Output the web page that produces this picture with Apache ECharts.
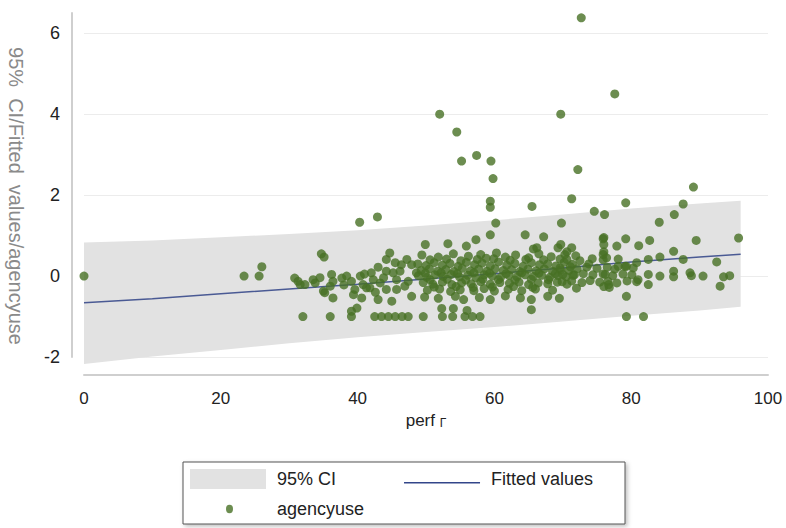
<!DOCTYPE html>
<html>
<head>
<meta charset="utf-8">
<script src="https://cdn.jsdelivr.net/npm/echarts@6.0.0/dist/echarts.min.js"></script>
<style>
html,body{margin:0;padding:0;background:#fff;}
#chart{width:786px;height:528px;}
</style>
</head>
<body>
<div id="chart"></div>
<script>
// ---- data ----
const ciX      = [0, 10, 20, 30, 40, 50, 60, 70, 80, 90, 96];
const ciUpper  = [0.83, 0.88, 0.96, 1.04, 1.13, 1.25, 1.38, 1.52, 1.67, 1.79, 1.86];
const ciLower  = [-2.17, -1.99, -1.83, -1.66, -1.51, -1.38, -1.26, -1.12, -0.98, -0.85, -0.76];
const fitY     = [-0.66, -0.56, -0.44, -0.32, -0.20, -0.07, 0.06, 0.20, 0.35, 0.47, 0.54];

const agencyOutliers = [
  [72.7,6.38],[77.6,4.50],[52.0,4.0],[69.7,4.0],[54.5,3.56],[55.2,2.84],[57.4,2.98],
  [59.5,2.84],[59.8,2.41],[72.2,2.63],[89.1,2.20],[71.3,1.91],[59.4,1.85],[59.4,1.70],
  [65.5,1.72],[79.2,1.81],[87.6,1.78],[74.6,1.60],[76.1,1.52],[86.3,1.52],[84.1,1.33],
  [40.3,1.33],[42.9,1.46],[60.2,1.31],[69.8,1.31],[59.4,1.02],[64.5,1.02],[67.2,0.97],
  [75.9,0.92],[79.2,0.92],[95.7,0.94],[89.5,0.88],[82.7,0.88],[57.3,0.90]
];
const agencyLeft = [
  [0,0],[23.4,0],[25.6,0],[26.0,0.23],[34.7,0.55],[35.1,0.47],
  [30.8,-0.05],[31.3,-0.13],[32.3,-0.21],[33.5,-0.09],[34.5,-0.04],[35.0,-0.37],[36.2,0.04],
  [36.0,-0.25],[36.4,-0.54],[36.4,-0.13],[37.7,-0.05],[38.4,0],[39.1,-0.13],[39.6,-0.33],
  [39.4,-0.46],[39.9,-0.79],[39.1,-0.87],[40.4,0],[40.8,-0.21],[41.3,-0.29],[41.8,-0.29],
  [40.6,-0.54],[42.0,0.08],[42.3,-0.09],[43.3,-0.17],[43.0,-0.58],[43.8,-0.04],[44.2,0.12],
  [44.2,0.41],[44.7,0.57],[44.2,-0.33],[45.0,-0.62],[45.7,-0.33],[45.7,-0.09],[46.2,0.12],
  [46.4,0.28],[47.2,0.41],[47.9,0.28],[47.4,-0.13],[47.9,-0.5],[48.6,0.08],[45.5,0.33],
  [45.2,0.08],[31.6,-0.21],[33.8,-0.17],[35.2,-0.41],[41.0,0.05],[43.0,0.22],[46.9,-0.25],
  [38.0,-0.22],[42.6,-0.40]
];
const agencyBottom = [
  [32.0,-1],[36.0,-1],[39.1,-1],[42.5,-1],[43.5,-1],[44.5,-1],[45.5,-1],[46.5,-1],[47.4,-1],
  [49.6,-1],[52.4,-1],[53.9,-1],[55.7,-1],[56.8,-1],[57.9,-1],[79.3,-1],[81.8,-1],
  [52.3,-0.8],[54.0,-0.8],[56.0,-0.85],[65.4,-0.83],[65.4,-0.58],[79.3,-0.5]
];
const agencyDense = [
  [49.9,0.78],[53.2,0.80],[55.9,0.74],[66.2,0.70],[69.3,0.70],[65.7,0.67],[71.3,0.70],
  [49.4,0.52],[51.8,0.47],[54.0,0.55],[56.2,0.49],[58.0,0.53],[58.8,0.44],[60.3,0.57],
  [61.6,0.47],[63.1,0.52],[65.0,0.45],[66.5,0.55],[68.3,0.48],[70.3,0.53],
  [50.6,0.40],[53.0,0.42],[55.1,0.38],[57.5,0.41],[59.9,0.43],[62.3,0.39],[64.6,0.41],[67.2,0.40],[69.6,0.42],
  [48.8,0.30],[50.0,0.26],[51.2,0.33],[52.4,0.27],[53.5,0.31],[54.7,0.24],[55.9,0.34],
  [57.1,0.28],[58.2,0.32],[59.4,0.25],[60.6,0.35],[61.8,0.27],[63.0,0.31],[64.2,0.24],
  [65.4,0.33],[66.6,0.28],[67.8,0.30],[69.0,0.25],[70.2,0.34],[71.4,0.29],
  [49.3,0.14],[50.5,0.18],[51.7,0.12],[52.9,0.16],[54.1,0.11],[55.3,0.19],[56.5,0.13],
  [57.7,0.17],[58.9,0.12],[60.1,0.18],[61.3,0.14],[62.5,0.16],[63.7,0.11],[64.9,0.17],
  [66.1,0.13],[67.3,0.18],[68.5,0.12],[69.7,0.15],[70.9,0.14],
  [49.9,0.07],[52.2,0.08],[54.6,0.06],[57.0,0.08],[59.3,0.07],[61.7,0.06],[64.0,0.08],[66.5,0.07],[68.9,0.06],
  [48.9,0.01],[50.1,-0.03],[51.3,0.03],[52.5,-0.01],[53.7,0.04],[54.9,-0.02],[56.1,0.02],
  [57.3,-0.04],[58.5,0.03],[59.7,0],[60.9,-0.03],[62.1,0.02],[63.3,-0.02],[64.5,0.03],
  [65.7,-0.01],[66.9,0.02],[68.1,-0.03],[69.3,0.01],[70.5,-0.02],[71.7,0.03],
  [50.6,-0.09],[53.1,-0.08],[55.8,-0.10],[58.3,-0.08],[60.6,-0.09],[63.0,-0.10],[65.4,-0.08],[67.9,-0.09],
  [49.6,-0.16],[51.0,-0.20],[52.4,-0.15],[53.8,-0.21],[55.2,-0.17],[56.6,-0.19],[58.0,-0.14],
  [59.4,-0.20],[60.8,-0.16],[62.2,-0.18],[63.6,-0.15],[65.0,-0.21],[66.4,-0.17],[67.8,-0.19],
  [69.2,-0.15],[70.6,-0.20],
  [51.2,-0.27],[54.4,-0.26],[56.9,-0.28],[59.7,-0.27],[62.8,-0.26],[65.6,-0.28],
  [50.2,-0.35],[52.0,-0.32],[53.6,-0.38],[55.0,-0.34],[57.0,-0.36],[58.5,-0.31],[60.0,-0.37],
  [62.0,-0.33],[64.0,-0.36],[66.0,-0.32],[68.5,-0.35],
  [49.8,-0.52],[51.8,-0.55],[54.3,-0.50],[55.5,-0.58],[57.8,-0.53],[59.4,-0.58],[61.6,-0.49],
  [63.8,-0.54],[67.8,-0.50],[69.5,-0.55]
];
const agencyRight = [
  [69.7,0.78],[70.6,0.60],[70.6,0.41],[72.5,0.38],[74.3,0.43],[75.9,0.40],[78.1,0.42],
  [69.6,0.20],[71.1,0.23],[72.1,0.18],[73.5,0.22],[75.0,0.19],[76.5,0.22],[77.6,0.17],
  [79.1,0.24],[80.3,0.20],[70.0,0.04],[71.5,0.02],[73.0,0.06],[74.4,0.03],[75.9,0.05],
  [77.3,0.01],[78.8,0.05],[80.1,0.03],[69.9,-0.14],[71.3,-0.12],[72.8,-0.16],[74.0,-0.11],
  [75.4,-0.15],[76.6,-0.13],[77.9,-0.17],[79.4,-0.12],[80.8,-0.14],[76.0,-0.26],[76.8,-0.28],
  [76.0,0.95],[76.0,0.78],[76.0,0.60],[81.1,0.75],[77.9,0.74],[75.9,0.53],[92.5,0.35],
  [86.2,0.61],[84.2,0.47],[82.5,0.41],[87.6,0.41],[80.8,0.33],[88.6,0.08],[90.5,0.0],
  [93.5,-0.02],[94.4,0.01],[93.0,-0.25],[82.5,-0.21],[82.5,0.04],[84.2,0.0],[81.0,-0.09],
  [86.2,0.12],[86.2,-0.02],[88.8,0.01],[76.7,-0.21],[76.2,0.04],[78.1,0.24],[79.3,0.24],
  [76.4,0.45],[72.0,-0.30],[73.8,0.30],[71.9,0.50]
];

const xTickStep = 20;
const yTickStep = 2;

// ---- chart ----
const FONT = '"Liberation Sans", Arial, sans-serif';
const chart = echarts.init(document.getElementById('chart'), null, {renderer: 'svg'});
const agencyAll = [].concat(agencyOutliers, agencyLeft, agencyBottom, agencyDense, agencyRight);
const CI_FILL = '#e2e2e2';
const FIT_COLOR = '#33468a';
const DOT_COLOR = '#477124';
const AXIS_COLOR = '#cfcfcf';

// legend icons (bounding points keep the full 76x20 box)
const lineIcon = 'path://M0,0 M76,20 M0,13 L76,13 L76,14.6 L0,14.6 Z';
const dotIcon  = 'path://M0,0 M76,20 M36,10 A3.5,4.2 0 1 0 43,10 A3.5,4.2 0 1 0 36,10 Z';

chart.setOption({
  animation: false,
  backgroundColor: '#ffffff',
  grid: {show: false, left: 84, right: 18, top: 13, bottom: 171, containLabel: false},
  xAxis: {
    type: 'value', min: 0, max: 100, interval: xTickStep, offset: 18,
    name: 'perf {s|Γ}', nameLocation: 'middle', nameGap: 36,
    nameTextStyle: {fontFamily: FONT, fontSize: 17, color: '#222',
      rich: {s: {fontSize: 12, color: '#222', padding: [6, 0, 0, 0]}}},
    axisLine: {show: true, onZero: false, lineStyle: {color: AXIS_COLOR, width: 2}},
    axisTick: {show: false},
    axisLabel: {fontFamily: FONT, fontSize: 17, color: '#222', margin: 15},
    splitLine: {show: false}
  },
  yAxis: {
    type: 'value', min: -2, max: 6.5, interval: yTickStep, offset: 12,
    axisLine: {show: true, onZero: false, lineStyle: {color: AXIS_COLOR, width: 2}},
    axisTick: {show: false},
    axisLabel: {fontFamily: FONT, fontSize: 18, color: '#222', margin: 12, showMaxLabel: false,
      formatter: v => (v === 6.5 ? '' : String(v))},
    splitLine: {show: true, lineStyle: {color: ['#ececec','#ececec','#ececec','#ececec','#ececec','rgba(0,0,0,0)'], width: 1}}
  },
  graphic: [
    {type: 'text', x: 16, y: 196, rotation: -Math.PI / 2, z: 10,
     style: {text: '95%  CI/Fitted  values/agencyuse', fill: '#8a8a8a', font: '20px "Liberation Sans", Arial, sans-serif',
       textAlign: 'center', textVerticalAlign: 'middle'}},
    {type: 'rect', shape: {x: 183, y: 462, width: 442, height: 62}, z: 0,
     style: {fill: '#ffffff', stroke: '#555555', lineWidth: 1,
       shadowBlur: 4, shadowColor: 'rgba(0,0,0,0.25)', shadowOffsetX: 2, shadowOffsetY: 2}}
  ],
  legend: [
    {left: 190, top: 469, padding: 0, itemWidth: 76, itemHeight: 20, itemGap: 68, selectedMode: false,
     textStyle: {fontFamily: FONT, fontSize: 18, color: '#222', padding: [0, 0, 0, 6]},
     data: [{name: '95% CI', icon: 'rect', itemStyle: {color: CI_FILL}},
            {name: 'Fitted values', icon: lineIcon, itemStyle: {color: FIT_COLOR}}]},
    {left: 190, top: 499, padding: 0, itemWidth: 76, itemHeight: 20, selectedMode: false,
     textStyle: {fontFamily: FONT, fontSize: 18, color: '#222', padding: [0, 0, 0, 6]},
     data: [{name: 'agencyuse', icon: dotIcon, itemStyle: {color: DOT_COLOR}}]}
  ],
  series: [
    {name: '95% CI', type: 'custom', silent: true, clip: false, z: 1,
     itemStyle: {color: CI_FILL},
     encode: {x: 0, y: [1, 2]},
     data: ciX.map((x, i) => [x, ciLower[i], ciUpper[i]]),
     renderItem: function (params, api) {
       if (params.dataIndex !== 0) return null;
       const top = ciX.map((x, i) => api.coord([x, ciUpper[i]]));
       const bot = ciX.map((x, i) => api.coord([x, ciLower[i]])).reverse();
       return {type: 'polygon', shape: {points: top.concat(bot)}, style: {fill: CI_FILL}};
     }},
    {name: 'Fitted values', type: 'line', symbol: 'none', clip: false, color: FIT_COLOR,
     lineStyle: {color: '#4a5a94', width: 1.5}, z: 3,
     data: ciX.map((x, i) => [x, fitY[i]])},
    {name: 'agencyuse', type: 'scatter', symbol: 'circle', symbolSize: 9, color: DOT_COLOR,
     itemStyle: {color: DOT_COLOR}, z: 4, data: agencyAll}
  ]
});
</script>
</body>
</html>
